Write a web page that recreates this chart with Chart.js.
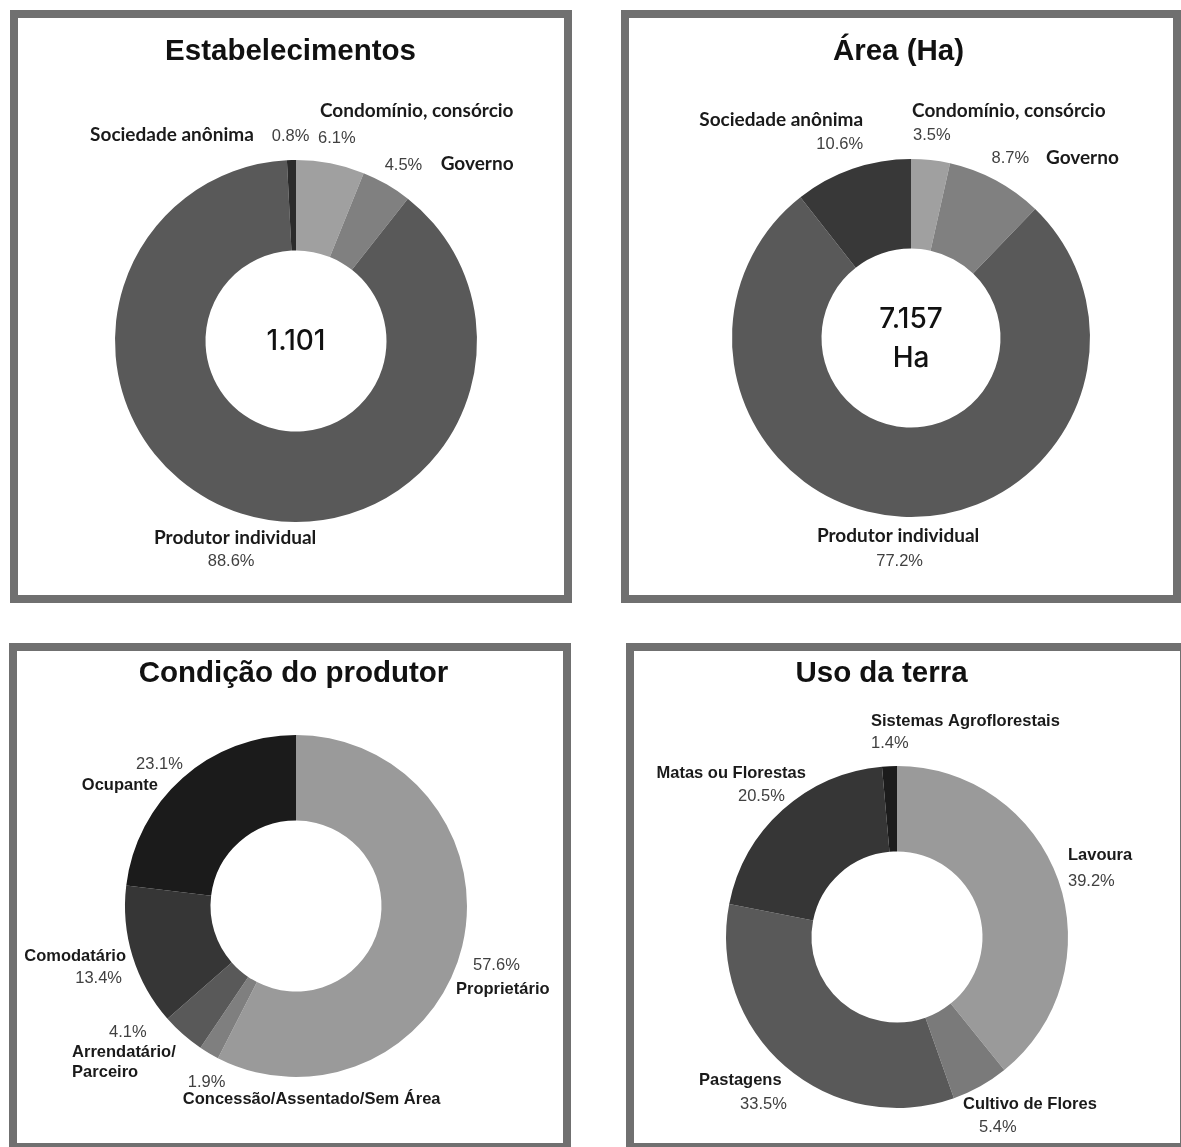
<!DOCTYPE html>
<html>
<head>
<meta charset="utf-8">
<script src="https://cdn.jsdelivr.net/npm/chart.js@4.4.1/dist/chart.umd.min.js"></script>
<style>
  html, body { margin: 0; padding: 0; background: #fff; }
  body { width: 1181px; height: 1147px; position: relative; overflow: hidden; }
  .panel { position: absolute; box-sizing: border-box; border: 8px solid #707070; background: #fff; }
  canvas { position: absolute; }
</style>
</head>
<body>
<div class="panel" style="left:10px;top:10px;width:562px;height:593px"></div>
<div class="panel" style="left:621px;top:10px;width:560px;height:593px"></div>
<div class="panel" style="left:9px;top:643px;width:562px;height:508px"></div>
<div class="panel" style="left:626px;top:643px;width:562px;height:508px"></div>

<canvas id="estabChart" width="546" height="577" style="left:18px;top:18px"></canvas>
<canvas id="areaChart" width="544" height="577" style="left:629px;top:18px"></canvas>
<canvas id="condChart" width="546" height="492" style="left:17px;top:651px"></canvas>
<canvas id="usoChart" width="546" height="492" style="left:634px;top:651px"></canvas>

<script>
// Dados (percentuais)
const estabLabels = ['Condomínio, consórcio', 'Governo', 'Produtor individual', 'Sociedade anônima'];
const estabValues = [6.1, 4.5, 88.6, 0.8];
const estabTotal = ['1.101'];

const areaLabels = ['Condomínio, consórcio', 'Governo', 'Produtor individual', 'Sociedade anônima'];
const areaValues = [3.5, 8.7, 77.2, 10.6];
const areaTotal = ['7.157', 'Ha'];

const condLabels = ['Proprietário', 'Concessão/Assentado/Sem Área', ['Arrendatário/', 'Parceiro'], 'Comodatário', 'Ocupante'];
const condValues = [57.6, 1.9, 4.1, 13.4, 23.1];

const usoLabels = ['Lavoura', 'Cultivo de Flores', 'Pastagens', 'Matas ou Florestas', 'Sistemas Agroflorestais'];
const usoValues = [39.2, 5.4, 33.5, 20.5, 1.4];

// Plugin para título, texto central e rótulos fora das fatias
const sliceLabels = {
    id: 'sliceLabels',
    afterDatasetsDraw(chart, args, opts) {
        const ctx = chart.ctx;
        const meta = chart.getDatasetMeta(0);
        const values = chart.data.datasets[0].data;
        ctx.save();
        ctx.textBaseline = 'middle';

        ctx.font = opts.titleFont;
        ctx.fillStyle = '#111';
        ctx.textAlign = 'center';
        ctx.fillText(opts.title, opts.titlePos[0], opts.titlePos[1]);

        const first = meta.data[0];
        ctx.font = opts.centerFont;
        (opts.center || []).forEach((line, k) => {
            ctx.fillText(line, first.x, first.y + opts.centerDy[k]);
        });

        meta.data.forEach((arc, i) => {
            const p = opts.place[i];
            const mid = (arc.startAngle + arc.endAngle) / 2;
            const ax = arc.x + arc.outerRadius * Math.cos(mid);
            const ay = arc.y + arc.outerRadius * Math.sin(mid);

            ctx.font = opts.nameFont;
            ctx.fillStyle = '#1a1a1a';
            ctx.textAlign = p.name[2];
            [].concat(chart.data.labels[i]).forEach((t, k) => {
                ctx.fillText(t, ax + p.name[0], ay + p.name[1] + k * opts.lineH);
            });

            ctx.font = opts.pctFont;
            ctx.fillStyle = '#404040';
            ctx.textAlign = p.pct[2];
            ctx.fillText(values[i].toFixed(1) + '%', ax + p.pct[0], ay + p.pct[1]);
        });
        ctx.restore();
    }
};

function makeDonut(id, labels, values, colors, radius, padding, labelOpts) {
    return new Chart(document.getElementById(id), {
        type: 'doughnut',
        data: {
            labels: labels,
            datasets: [{
                data: values,
                backgroundColor: colors,
                borderWidth: 0,
                hoverOffset: 0
            }]
        },
        options: {
            responsive: false,
            animation: false,
            radius: radius,
            cutout: '50%',
            layout: { padding: padding },
            plugins: {
                legend: { display: false },
                tooltip: { enabled: false },
                sliceLabels: labelOpts
            }
        },
        plugins: [sliceLabels]
    });
}

const topName = 'bold 19px Lato';
const pctFont = '16.5px "Liberation Sans"';
const titleFont = 'bold 29.5px "Liberation Sans"';

makeDonut('estabChart', estabLabels, estabValues,
    ['#a0a0a0', '#808080', '#595959', '#2b2b2b'], 181,
    { left: 10, right: 0, top: 69, bottom: 0 },
    {
        title: 'Estabelecimentos', titlePos: [272.5, 34], titleFont: titleFont,
        center: estabTotal, centerDy: [0.5], centerFont: '500 28px Inter',
        nameFont: topName, pctFont: pctFont, lineH: 20,
        place: [
            { name: [-10.5, -52, 'left'], pct: [-12.5, -24.5, 'left'] },
            { name: [54, -20.3, 'left'], pct: [-2, -19.3, 'left'] },
            { name: [-6, 24.5, 'center'], pct: [-10, 47.5, 'center'] },
            { name: [-37.6, -25.5, 'right'], pct: [-19.6, -24, 'left'] }
        ]
    });

makeDonut('areaChart', areaLabels, areaValues,
    ['#a0a0a0', '#808080', '#595959', '#383838'], 179,
    { left: 20, right: 0, top: 63, bottom: 0 },
    {
        title: 'Área (Ha)', titlePos: [269.5, 34], titleFont: titleFont,
        center: areaTotal, centerDy: [-18, 20.5], centerFont: '500 28px Inter',
        nameFont: topName, pctFont: pctFont, lineH: 20,
        place: [
            { name: [-18.6, -49.1, 'left'], pct: [-17.6, -24.6, 'left'] },
            { name: [50.2, -22.3, 'left'], pct: [-4.3, -21.8, 'left'] },
            { name: [-3.9, 19.2, 'center'], pct: [-2.4, 44.2, 'center'] },
            { name: [10.6, -48.8, 'right'], pct: [10.6, -24.3, 'right'] }
        ]
    });

makeDonut('condChart', condLabels, condValues,
    ['#9a9a9a', '#7f7f7f', '#595959', '#363636', '#1b1b1b'], 171,
    { left: 12, right: 0, top: 18, bottom: 0 },
    {
        title: 'Condição do produtor', titlePos: [276.5, 23], titleFont: titleFont,
        nameFont: 'bold 16.5px "Liberation Sans"', pctFont: pctFont, lineH: 20.5,
        place: [
            { name: [-6.2, 43.3, 'left'], pct: [10.8, 19.8, 'left'] },
            { name: [-26.2, 46.7, 'left'], pct: [-21.2, 29.2, 'left'] },
            { name: [-110.9, 17.7, 'left'], pct: [-36.3, -1.8, 'right'] },
            { name: [-6.6, 0.4, 'right'], pct: [-10.6, 22.4, 'right'] },
            { name: [-24.7, 7.1, 'right'], pct: [0.3, -13.9, 'right'] }
        ]
    });

makeDonut('usoChart', usoLabels, usoValues,
    ['#9a9a9a', '#7a7a7a', '#595959', '#363636', '#1c1c1c'], 171,
    { left: 0, right: 20, top: 80, bottom: 0 },
    {
        title: 'Uso da terra', titlePos: [247.5, 23], titleFont: titleFont,
        nameFont: 'bold 16.5px "Liberation Sans"', pctFont: pctFont, lineH: 20,
        place: [
            { name: [9.7, -24.6, 'left'], pct: [9.7, 0.9, 'left'] },
            { name: [-17.3, 17.7, 'left'], pct: [-1.3, 41.2, 'left'] },
            { name: [-86.1, 13.7, 'left'], pct: [-45.1, 37.7, 'left'] },
            { name: [-126.2, -36.8, 'left'], pct: [-44.7, -13.8, 'left'] },
            { name: [-18.5, -45.2, 'left'], pct: [-18.5, -23.2, 'left'] }
        ]
    });
</script>
</body>
</html>
